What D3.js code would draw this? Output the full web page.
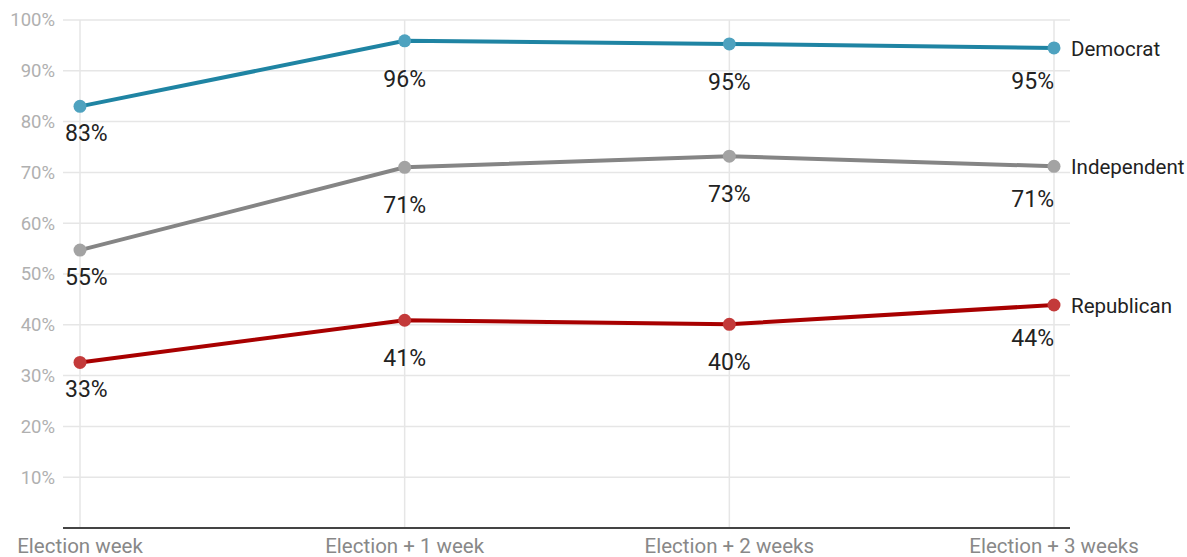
<!DOCTYPE html>
<head>
  <meta charset="utf-8">
  <script src="https://d3js.org/d3.v7.min.js"></script>
</head>
<body>
  <div id="chart"></div>

  <script>
    // data
    var weeks = ["Election week", "Election + 1 week", "Election + 2 weeks", "Election + 3 weeks"];
    var democrat = [83, 96, 95, 95];
    var independent = [55, 71, 73, 71];
    var republican = [33, 41, 40, 44];
    // exact plotted positions (labels are rounded)
    var democratRaw = [83.0, 95.9, 95.3, 94.5];
    var independentRaw = [54.7, 71.0, 73.2, 71.2];
    var republicanRaw = [32.6, 40.9, 40.1, 43.9];
    var yTicks = [10, 20, 30, 40, 50, 60, 70, 80, 90, 100];

    var series = [
      {name: "Democrat", raw: democratRaw, labels: democrat, line: "#1f84a3", dot: "#4ea2bf"},
      {name: "Independent", raw: independentRaw, labels: independent, line: "#858585", dot: "#a3a3a3"},
      {name: "Republican", raw: republicanRaw, labels: republican, line: "#a80000", dot: "#c33a3a"}
    ];

    // how far below the dot each column's value label sits
    var labelDrop = [35, 46, 46, 41];

    var width = 1187, height = 557;

    var svg = d3.select("#chart")
      .append("svg")
        .attr("width", width)
        .attr("height", height)
        .style("font-family", "Roboto, sans-serif");

    var x = d3.scalePoint().domain(weeks).range([80, 1054]);
    var y = d3.scaleLinear().domain([0, 100]).range([528, 20]);

    var gridLeft = 63, gridRight = 1070;

    // horizontal grid
    svg.append("g")
      .selectAll("line")
      .data(yTicks)
      .join("line")
        .attr("x1", gridLeft)
        .attr("x2", gridRight)
        .attr("y1", d => y(d))
        .attr("y2", d => y(d))
        .attr("stroke", "#e6e6e6")
        .attr("stroke-width", 1.5);

    // vertical grid
    svg.append("g")
      .selectAll("line")
      .data(weeks)
      .join("line")
        .attr("x1", d => x(d))
        .attr("x2", d => x(d))
        .attr("y1", y(100))
        .attr("y2", y(0))
        .attr("stroke", "#e6e6e6")
        .attr("stroke-width", 1.5);

    // y labels
    svg.append("g")
      .selectAll("text")
      .data(yTicks)
      .join("text")
        .attr("x", 55)
        .attr("y", d => y(d))
        .attr("dy", "0.35em")
        .attr("text-anchor", "end")
        .attr("fill", "#b0b0b0")
        .style("font-size", "18.5px")
        .text(d => d + "%");

    // baseline
    svg.append("line")
      .attr("x1", gridLeft)
      .attr("x2", gridRight)
      .attr("y1", y(0))
      .attr("y2", y(0))
      .attr("stroke", "#444")
      .attr("stroke-width", 2);

    // x labels
    svg.append("g")
      .selectAll("text")
      .data(weeks)
      .join("text")
        .attr("x", d => x(d))
        .attr("y", 553)
        .attr("text-anchor", "middle")
        .attr("fill", "#888")
        .style("font-size", "20.5px")
        .text(d => d);

    var line = d3.line()
      .x((d, i) => x(weeks[i]))
      .y(d => y(d));

    series.forEach(function(s) {
      var g = svg.append("g");

      g.append("path")
        .datum(s.raw)
        .attr("d", line)
        .attr("fill", "none")
        .attr("stroke", s.line)
        .attr("stroke-width", 4);

      g.selectAll("circle")
        .data(s.raw)
        .join("circle")
          .attr("cx", (d, i) => x(weeks[i]))
          .attr("cy", d => y(d))
          .attr("r", 6.5)
          .attr("fill", s.dot);

      g.selectAll("text.val")
        .data(s.raw)
        .join("text")
          .attr("class", "val")
          .attr("x", (d, i) => i == 0 ? x(weeks[i]) - 15 : x(weeks[i]))
          .attr("y", (d, i) => y(d) + labelDrop[i])
          .attr("text-anchor", (d, i) => i == 0 ? "start" : (i == weeks.length - 1 ? "end" : "middle"))
          .attr("fill", "#222")
          .style("font-size", "23px")
          .text((d, i) => s.labels[i] + "%");

      g.append("text")
        .attr("x", x(weeks[weeks.length - 1]) + 17)
        .attr("y", y(s.raw[s.raw.length - 1]))
        .attr("dy", "0.38em")
        .attr("fill", "#222")
        .style("font-size", "20.5px")
        .text(s.name);
    });
  </script>
</body>

<style>
  body { margin: 0; background: #fff; }
</style>
